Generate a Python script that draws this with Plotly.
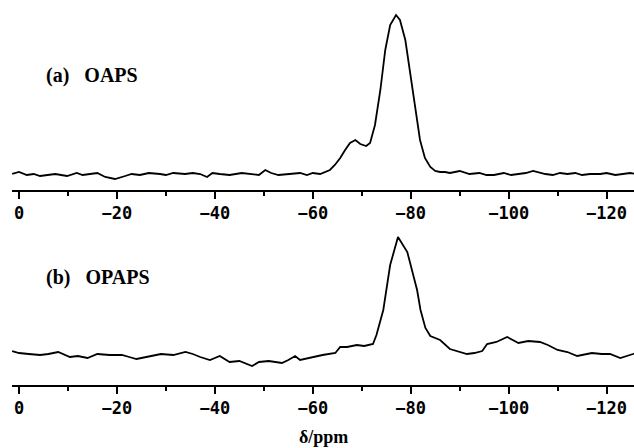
import plotly.graph_objects as go

# ---- Data (chemical shift in ppm, intensity in arbitrary units) ----
ppm_a = [1.4, 0, -1.6, -3, -4.3, -6, -7.4, -9.8, -11.8, -13, -14.5, -16, -17.6, -19.6, -21.7,
         -23, -24.7, -26.5, -28.8, -30, -31.5, -33.9, -35.5, -37, -38.4, -39.5, -41, -43,
         -45.5, -47.8, -49, -50.3, -51.5, -53, -55.4, -57.4, -58.8, -60, -61.5, -63.5,
         -64.5, -65.6, -66.6, -67.6, -68.7, -69.7, -70.9, -71.7, -72.7, -73.8, -74.8,
         -75.8, -77, -77.8, -78.9, -79.9, -80.9, -81.9, -82.9, -84, -85, -86, -87, -88,
         -90, -92, -94, -95.5, -97, -99, -100.5, -102, -103.5, -105, -107.5, -109, -110.5,
         -112, -113.6, -115, -116.6, -118.7, -120, -121.8, -123.5, -124.8, -126]
int_a = [0, 2, -1, 0, -2, -1, 0, -2, 1, -1, 0, 1, -3, -5, -2,
         0, -1, 1, 0, -1, 1, 0, 1, 0, -3, 1, 0, -1,
         1, 0, -1, 4, 1, -1, 0, 1, -1, 1, 0, 4,
         9, 16, 24, 31, 34, 30, 28, 31, 49, 84, 124,
         149, 159, 154, 134, 99, 64, 34, 16, 7, 3, 2, 2, 1,
         3, 0, 1, -1, -1, 1, -1, 0, 1, 3, 0, -1, 1,
         0, 1, -1, 0, 0, 1, -1, 0, 1, 0]

ppm_b = [1.4, 0, -2, -4.3, -6, -8, -10.4, -12, -14, -16, -18.5, -21, -22.5, -24, -27, -29,
         -31.5, -34, -35.5, -37, -39, -41, -43, -45, -47.6, -49, -51, -53.7, -55, -56.4,
         -57.4, -60, -62, -64.6, -65.6, -67, -69, -70.5, -72.3, -73, -74.4, -75.8, -77.4,
         -79.3, -80, -81.3, -82, -83, -84, -86, -88, -90, -91.5, -93, -94.6, -95.6, -97.5,
         -99.7, -102, -104, -106.4, -108, -110, -112, -114, -117, -119, -120.7, -122.8,
         -125.4, -126]
int_b = [4, 2, 1, 0, 1, 3, -2, -1, -3, 1, 0, 0, -2, -4, -1, 1,
         0, 3, 1, -2, -5, -1, -7, -6, -11, -7, -6, -8, -5, -1,
         -5, -2, 0, 2, 8, 8, 10, 9, 11, 20, 45, 90, 118,
         103, 90, 65, 45, 27, 19, 15, 6, 3, 1, 2, 4, 11, 13,
         18, 12, 14, 13, 10, 5, 3, -1, 2, 1, 1, -3,
         1, 2]

labels = ["(a)\u00a0\u00a0\u00a0OAPS", "(b)\u00a0\u00a0\u00a0OPAPS"]
x_title = "\u03b4/ppm"

W, H = 634, 448

fig = go.Figure()
fig.add_trace(go.Scatter(x=ppm_a, y=int_a, mode="lines", line=dict(color="black", width=1.8),
                         xaxis="x", yaxis="y", showlegend=False))
fig.add_trace(go.Scatter(x=ppm_b, y=int_b, mode="lines", line=dict(color="black", width=1.8),
                         xaxis="x2", yaxis="y2", showlegend=False))

xcommon = dict(range=[1.43, -125.6], domain=[12 / W, 1], showline=True, linecolor="black",
               linewidth=2, ticks="outside", ticklen=7, tickwidth=2, tickcolor="black",
               tick0=0, dtick=20, showgrid=False, zeroline=False, automargin=False,
               tickfont=dict(family="DejaVu Sans Mono", size=17, color="black", weight="bold"),
               minor=dict(dtick=10, tick0=0, ticks="outside", ticklen=4, tickwidth=2,
                          tickcolor="black", showgrid=False))

ycommon = dict(visible=False, showgrid=False, zeroline=False)

fig.update_layout(
    width=W, height=H, margin=dict(l=0, r=0, t=0, b=0, autoexpand=False),
    paper_bgcolor="white", plot_bgcolor="white",
    xaxis=dict(anchor="y", **xcommon),
    xaxis2=dict(anchor="y2", **xcommon),
    yaxis=dict(domain=[1 - 190 / H, 1], range=[-16, 174], **ycommon),
    yaxis2=dict(domain=[1 - 385 / H, 1 - 225 / H], range=[-30, 130], **ycommon),
    annotations=[
        dict(text="<b>" + labels[0] + "</b>", x=44 / W, y=1 - 75 / H, xref="paper", yref="paper",
             xanchor="left", yanchor="middle", showarrow=False,
             font=dict(family="Liberation Serif", size=20, color="black")),
        dict(text="<b>" + labels[1] + "</b>", x=44 / W, y=1 - 277 / H, xref="paper", yref="paper",
             xanchor="left", yanchor="middle", showarrow=False,
             font=dict(family="Liberation Serif", size=20, color="black")),
        dict(text="<b>" + x_title + "</b>", x=323 / W, y=1 - 437 / H, xref="paper", yref="paper",
             xanchor="center", yanchor="middle", showarrow=False,
             font=dict(family="Liberation Serif", size=18, color="black")),
    ],
)

fig.write_html("out.html", config={"displayModeBar": False},
               post_script="document.body.style.margin='0';document.body.style.overflow='hidden';")
